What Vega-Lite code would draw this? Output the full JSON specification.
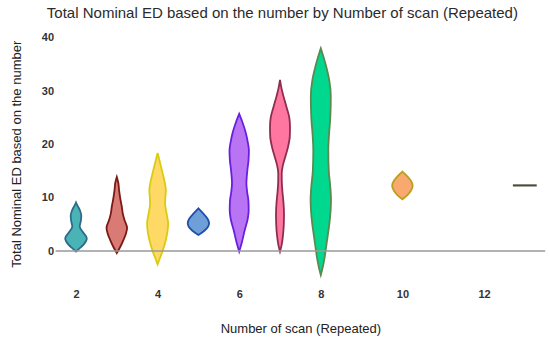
{
  "$schema": "https://vega.github.io/schema/vega-lite/v6.json",
  "width": 489.6,
  "height": 245.3,
  "autosize": {"type": "none"},
  "padding": {"left": 55.6, "top": 37.7, "right": 4.8, "bottom": 57},
  "background": "white",
  "title": {
    "text": "Total Nominal ED based on the number by Number of scan (Repeated)",
    "font": "Liberation Sans",
    "fontSize": 15,
    "fontWeight": "normal",
    "color": "#2b2b2b",
    "anchor": "middle",
    "dx": -18,
    "offset": 11
  },
  "config": {"view": {"stroke": null}},
  "layer": [
    {
      "data": {"values": [
        {"s": 2, "y": -0.1, "lo": 2, "hi": 2},
        {"s": 2, "y": 0.4, "lo": 1.926, "hi": 2.074},
        {"s": 2, "y": 1.2, "lo": 1.816, "hi": 2.184},
        {"s": 2, "y": 2.4, "lo": 1.735, "hi": 2.265},
        {"s": 2, "y": 3.5, "lo": 1.828, "hi": 2.172},
        {"s": 2, "y": 4.6, "lo": 1.909, "hi": 2.091},
        {"s": 2, "y": 5.6, "lo": 1.882, "hi": 2.118},
        {"s": 2, "y": 6.6, "lo": 1.870, "hi": 2.130},
        {"s": 2, "y": 7.6, "lo": 1.902, "hi": 2.098},
        {"s": 2, "y": 8.5, "lo": 1.963, "hi": 2.037},
        {"s": 2, "y": 9.1, "lo": 2, "hi": 2},

        {"s": 3, "y": -0.4, "lo": 3, "hi": 3},
        {"s": 3, "y": 0.8, "lo": 2.914, "hi": 3.086},
        {"s": 3, "y": 2.1, "lo": 2.836, "hi": 3.164},
        {"s": 3, "y": 3.2, "lo": 2.779, "hi": 3.221},
        {"s": 3, "y": 4.3, "lo": 2.748, "hi": 3.252},
        {"s": 3, "y": 5.8, "lo": 2.811, "hi": 3.189},
        {"s": 3, "y": 7.0, "lo": 2.853, "hi": 3.147},
        {"s": 3, "y": 8.3, "lo": 2.877, "hi": 3.123},
        {"s": 3, "y": 9.8, "lo": 2.914, "hi": 3.086},
        {"s": 3, "y": 11.4, "lo": 2.944, "hi": 3.056},
        {"s": 3, "y": 12.8, "lo": 2.963, "hi": 3.037},
        {"s": 3, "y": 13.9, "lo": 3, "hi": 3},

        {"s": 4, "y": -2.5, "lo": 4, "hi": 4},
        {"s": 4, "y": -1.5, "lo": 3.951, "hi": 4.049},
        {"s": 4, "y": 0, "lo": 3.877, "hi": 4.123},
        {"s": 4, "y": 2.1, "lo": 3.797, "hi": 4.203},
        {"s": 4, "y": 3.8, "lo": 3.755, "hi": 4.245},
        {"s": 4, "y": 5.2, "lo": 3.743, "hi": 4.257},
        {"s": 4, "y": 7.0, "lo": 3.779, "hi": 4.221},
        {"s": 4, "y": 8.9, "lo": 3.816, "hi": 4.184},
        {"s": 4, "y": 10.2, "lo": 3.809, "hi": 4.191},
        {"s": 4, "y": 11.4, "lo": 3.797, "hi": 4.203},
        {"s": 4, "y": 13.0, "lo": 3.828, "hi": 4.172},
        {"s": 4, "y": 14.6, "lo": 3.877, "hi": 4.123},
        {"s": 4, "y": 16.5, "lo": 3.939, "hi": 4.061},
        {"s": 4, "y": 18.4, "lo": 4, "hi": 4},

        {"s": 5, "y": 3.0, "lo": 5, "hi": 5},
        {"s": 5, "y": 3.8, "lo": 4.853, "hi": 5.147},
        {"s": 5, "y": 4.5, "lo": 4.767, "hi": 5.233},
        {"s": 5, "y": 5.2, "lo": 4.738, "hi": 5.262},
        {"s": 5, "y": 6.1, "lo": 4.779, "hi": 5.221},
        {"s": 5, "y": 7.1, "lo": 4.890, "hi": 5.110},
        {"s": 5, "y": 8.0, "lo": 5, "hi": 5},

        {"s": 6, "y": -0.1, "lo": 6, "hi": 6},
        {"s": 6, "y": 1.5, "lo": 5.939, "hi": 6.061},
        {"s": 6, "y": 3.9, "lo": 5.865, "hi": 6.135},
        {"s": 6, "y": 6.0, "lo": 5.792, "hi": 6.208},
        {"s": 6, "y": 7.7, "lo": 5.767, "hi": 6.233},
        {"s": 6, "y": 9.5, "lo": 5.775, "hi": 6.225},
        {"s": 6, "y": 11.0, "lo": 5.804, "hi": 6.196},
        {"s": 6, "y": 12.7, "lo": 5.824, "hi": 6.176},
        {"s": 6, "y": 14.0, "lo": 5.814, "hi": 6.186},
        {"s": 6, "y": 15.2, "lo": 5.799, "hi": 6.201},
        {"s": 6, "y": 17.0, "lo": 5.772, "hi": 6.228},
        {"s": 6, "y": 18.9, "lo": 5.762, "hi": 6.238},
        {"s": 6, "y": 20.5, "lo": 5.792, "hi": 6.208},
        {"s": 6, "y": 22.1, "lo": 5.836, "hi": 6.164},
        {"s": 6, "y": 24.0, "lo": 5.914, "hi": 6.086},
        {"s": 6, "y": 25.7, "lo": 6, "hi": 6},

        {"s": 7, "y": -0.1, "lo": 7, "hi": 7},
        {"s": 7, "y": 1.0, "lo": 6.963, "hi": 7.037},
        {"s": 7, "y": 3.0, "lo": 6.926, "hi": 7.074},
        {"s": 7, "y": 5.0, "lo": 6.907, "hi": 7.093},
        {"s": 7, "y": 7.0, "lo": 6.902, "hi": 7.098},
        {"s": 7, "y": 9.0, "lo": 6.914, "hi": 7.086},
        {"s": 7, "y": 11.0, "lo": 6.939, "hi": 7.061},
        {"s": 7, "y": 13.0, "lo": 6.956, "hi": 7.044},
        {"s": 7, "y": 14.6, "lo": 6.958, "hi": 7.042},
        {"s": 7, "y": 16.0, "lo": 6.931, "hi": 7.069},
        {"s": 7, "y": 17.5, "lo": 6.877, "hi": 7.123},
        {"s": 7, "y": 19.5, "lo": 6.804, "hi": 7.196},
        {"s": 7, "y": 21.5, "lo": 6.760, "hi": 7.240},
        {"s": 7, "y": 23.3, "lo": 6.755, "hi": 7.245},
        {"s": 7, "y": 25.0, "lo": 6.772, "hi": 7.228},
        {"s": 7, "y": 27.0, "lo": 6.841, "hi": 7.159},
        {"s": 7, "y": 29.0, "lo": 6.914, "hi": 7.086},
        {"s": 7, "y": 30.5, "lo": 6.963, "hi": 7.037},
        {"s": 7, "y": 32.1, "lo": 7, "hi": 7},

        {"s": 8, "y": -4.5, "lo": 8, "hi": 8},
        {"s": 8, "y": -3.0, "lo": 7.951, "hi": 8.049},
        {"s": 8, "y": -1.0, "lo": 7.902, "hi": 8.098},
        {"s": 8, "y": 1.0, "lo": 7.865, "hi": 8.135},
        {"s": 8, "y": 3.0, "lo": 7.828, "hi": 8.172},
        {"s": 8, "y": 5.0, "lo": 7.792, "hi": 8.208},
        {"s": 8, "y": 7.5, "lo": 7.760, "hi": 8.240},
        {"s": 8, "y": 9.6, "lo": 7.750, "hi": 8.250},
        {"s": 8, "y": 12.0, "lo": 7.767, "hi": 8.233},
        {"s": 8, "y": 15.0, "lo": 7.804, "hi": 8.196},
        {"s": 8, "y": 18.9, "lo": 7.816, "hi": 8.184},
        {"s": 8, "y": 22.0, "lo": 7.797, "hi": 8.203},
        {"s": 8, "y": 25.0, "lo": 7.767, "hi": 8.233},
        {"s": 8, "y": 29.0, "lo": 7.755, "hi": 8.245},
        {"s": 8, "y": 32.0, "lo": 7.792, "hi": 8.208},
        {"s": 8, "y": 34.5, "lo": 7.865, "hi": 8.135},
        {"s": 8, "y": 36.5, "lo": 7.939, "hi": 8.061},
        {"s": 8, "y": 38.0, "lo": 8, "hi": 8},

        {"s": 10, "y": 9.7, "lo": 10, "hi": 10},
        {"s": 10, "y": 10.5, "lo": 9.877, "hi": 10.123},
        {"s": 10, "y": 11.3, "lo": 9.792, "hi": 10.208},
        {"s": 10, "y": 12.3, "lo": 9.748, "hi": 10.252},
        {"s": 10, "y": 13.3, "lo": 9.804, "hi": 10.196},
        {"s": 10, "y": 14.2, "lo": 9.902, "hi": 10.098},
        {"s": 10, "y": 14.9, "lo": 10, "hi": 10},

        {"s": 13, "y": 12.27, "lo": 12.73, "hi": 13.27},
        {"s": 13, "y": 12.33, "lo": 12.73, "hi": 13.27}
      ]},
      "mark": {"type": "area", "orient": "horizontal", "interpolate": "monotone", "strokeWidth": 1.8, "fillOpacity": 1},
      "encoding": {
        "y": {
          "field": "y", "type": "quantitative",
          "scale": {"domain": [-6, 40], "nice": false, "zero": false},
          "axis": {
            "values": [0, 10, 20, 30, 40],
            "title": "Total Nominal ED based on the number",
            "grid": false, "domain": false, "ticks": false,
            "labelPadding": 2, "labelFont": "Liberation Sans", "labelFontSize": 11,
            "labelFontWeight": "bold", "labelColor": "#333",
            "titleFont": "Liberation Sans", "titleFontSize": 13, "titleFontWeight": "normal",
            "titleColor": "#222", "titleBaseline": "middle", "titleX": -39.6, "titleY": 116
          }
        },
        "x": {
          "field": "lo", "type": "quantitative", "stack": null,
          "scale": {"domain": [1.5, 13.5], "nice": false, "zero": false},
          "axis": {
            "values": [2, 4, 6, 8, 10, 12],
            "title": "Number of scan (Repeated)",
            "grid": false, "domain": false, "ticks": false,
            "labelPadding": 5, "labelFont": "Liberation Sans", "labelFontSize": 11,
            "labelFontWeight": "bold", "labelColor": "#333",
            "titleFont": "Liberation Sans", "titleFontSize": 13, "titleFontWeight": "normal",
            "titleColor": "#222", "titleBaseline": "alphabetic", "titleY": 49.5
          }
        },
        "x2": {"field": "hi"},
        "fill": {
          "field": "s", "type": "nominal", "legend": null,
          "scale": {
            "domain": [2, 3, 4, 5, 6, 7, 8, 10, 13],
            "range": ["#4ab3b6", "#d97a74", "#ffd966", "#6f9fd8", "#b874f2", "#ff77a0", "#00d890", "#f9a870", "#4a4a3a"]
          }
        },
        "stroke": {
          "field": "s", "type": "nominal", "legend": null,
          "scale": {
            "domain": [2, 3, 4, 5, 6, 7, 8, 10, 13],
            "range": ["#2e6b88", "#7a1a14", "#d8cc10", "#2050a8", "#6a1fe0", "#8e2d4d", "#5a8a50", "#b8a01e", "#4a4a3a"]
          }
        }
      }
    },
    {
      "data": {"values": [{}]},
      "mark": {"type": "rule", "color": "#999999", "strokeWidth": 1.5},
      "encoding": {"y": {"datum": 0, "type": "quantitative"}}
    }
  ]
}
